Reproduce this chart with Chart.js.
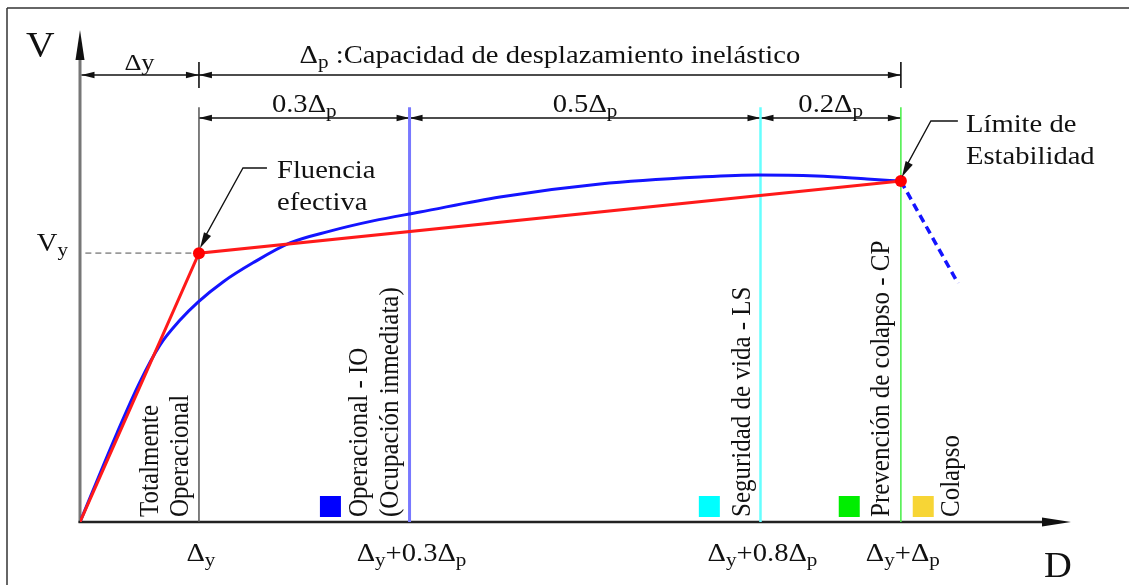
<!DOCTYPE html>
<html><head><meta charset="utf-8">
<script src="https://cdn.jsdelivr.net/npm/chart.js@4.4.1/dist/chart.umd.min.js"></script>
<style>html,body{margin:0;padding:0;background:#fff;overflow:hidden}canvas{display:block}</style>
</head><body>
<canvas id="c" width="1129" height="585"></canvas>
<script>
// ---- data (x in units of Δy, y in units of Vy) ----
const xTicks = [1, 2.77, 5.72, 6.9];
const xTickLabels = ['Δ_y', 'Δ_y+0.3Δ_p', 'Δ_y+0.8Δ_p', 'Δ_y+Δ_p'];
const yTicks = [1];
const yTickLabels = ['V_y'];
const capX = [0, 0.311, 0.504, 0.672, 0.841, 0.992, 1.202, 1.454, 1.765, 2.101, 2.463, 2.858, 3.530, 4.371, 5.211, 5.699, 6.195, 6.615, 6.90];
const capY = [0, 0.331, 0.521, 0.658, 0.751, 0.818, 0.893, 0.964, 1.038, 1.082, 1.120, 1.153, 1.209, 1.257, 1.283, 1.291, 1.287, 1.276, 1.268];
const bilX = [0, 1, 6.9];
const bilY = [0, 1, 1.268];
const degX = [6.9, 7.38];
const degY = [1.268, 0.888];
const levelX = [1, 2.77, 5.72, 6.9];
const levelTop = 1.543;
const spanLabels = ['0.3Δ_p', '0.5Δ_p', '0.2Δ_p'];
const levelNames = [['Totalmente', 'Operacional'], ['Operacional - IO', '(Ocupación inmediata)'], ['Seguridad de vida - LS'], ['Prevención de colapso - CP'], ['Colapso']];

// ---- styles / layout ----
const FONT = '"Liberation Serif", "DejaVu Serif", serif';
const SX = 1.1;
const levelColors = ['#555555', '#7878ff', '#66ffff', '#44ee44'];
const levelWidths = [1.5, 3, 2.5, 1.5];
const swatchColors = [null, '#0000ff', '#00ffff', '#00ee00', '#f7d535'];
const nameLineX = [[0.588, 0.840], [2.345, 2.605], [5.563], [6.731], [7.32]];
const swatchX = [null, 2.105, 5.29, 6.466, 7.088];

function pts(xs, ys) { return xs.map((x, i) => ({ x: x, y: ys[i] })); }

function parseRich(s) {
  const segs = [];
  for (let i = 0; i < s.length; i++) {
    if (s[i] === '_') { segs.push({ t: s[i + 1], sub: true }); i++; }
    else if (segs.length && !segs[segs.length - 1].sub) segs[segs.length - 1].t += s[i];
    else segs.push({ t: s[i], sub: false });
  }
  return segs;
}
function drawRich(ctx, s, x, y, size, align, color) {
  const segs = parseRich(s);
  ctx.save();
  ctx.fillStyle = color || '#111';
  ctx.textBaseline = 'alphabetic';
  ctx.textAlign = 'left';
  let total = 0;
  segs.forEach(g => {
    ctx.font = (g.sub ? size * 0.74 : size) + 'px ' + FONT;
    g.w = ctx.measureText(g.t).width; total += g.w;
  });
  let cur = align === 'center' ? -total / 2 : (align === 'right' ? -total : 0);
  ctx.translate(x, y); ctx.scale(SX, 1);
  segs.forEach(g => {
    ctx.font = (g.sub ? size * 0.74 : size) + 'px ' + FONT;
    ctx.fillText(g.t, cur, g.sub ? size * 0.2 : 0);
    cur += g.w;
  });
  ctx.restore();
}
function drawRot(ctx, s, cx, by, size) {
  ctx.save();
  ctx.fillStyle = '#111';
  ctx.font = size + 'px ' + FONT;
  ctx.translate(cx, by); ctx.scale(SX, 1); ctx.rotate(-Math.PI / 2);
  ctx.textBaseline = 'middle'; ctx.textAlign = 'left';
  ctx.fillText(s, 0, 1);
  ctx.restore();
}
function arrowHead(ctx, tx, ty, ang, len, hw, color) {
  ctx.save();
  ctx.fillStyle = color || '#111';
  ctx.translate(tx, ty); ctx.rotate(ang);
  ctx.beginPath(); ctx.moveTo(0, 0); ctx.lineTo(-len, -hw); ctx.lineTo(-len, hw); ctx.closePath(); ctx.fill();
  ctx.restore();
}
function line(ctx, x1, y1, x2, y2, w, color) {
  ctx.save(); ctx.strokeStyle = color; ctx.lineWidth = w;
  ctx.beginPath(); ctx.moveTo(x1, y1); ctx.lineTo(x2, y2); ctx.stroke(); ctx.restore();
}
function dimLine(ctx, x1, x2, y) {
  line(ctx, x1, y, x2, y, 1.6, '#111');
  arrowHead(ctx, x1, y, Math.PI, 13, 3.2);
  arrowHead(ctx, x2, y, 0, 13, 3.2);
}

const decorPlugin = {
  id: 'decor',
  beforeDatasetsDraw(chart) {
    const ctx = chart.ctx, xs = chart.scales.x, ys = chart.scales.y, a = chart.chartArea;
    const X = v => xs.getPixelForValue(v), Y = v => ys.getPixelForValue(v);
    // frame
    line(ctx, 7, 8, 1129, 8, 1.5, '#333');
    line(ctx, 7, 8, 7, 585, 1.5, '#333');
    // axes
    const ox = X(0), oy = Y(0);
    line(ctx, ox, oy + 1, ox, a.top + 26, 3, '#777');
    arrowHead(ctx, ox, a.top, -Math.PI / 2, 30, 4.5, '#111');
    line(ctx, ox - 1.5, oy, a.right - 26, oy, 2.5, '#222');
    arrowHead(ctx, a.right, oy, 0, 29, 4.5, '#111');
    drawRich(ctx, 'V', 26, 57, 36, 'left');
    drawRich(ctx, 'D', 1044, 577, 35, 'left');
    // y tick label
    yTicks.forEach((v, i) => drawRich(ctx, yTickLabels[i], 68, Y(v) - 2, 26, 'right'));
    // x tick labels
    xTicks.forEach((v, i) => drawRich(ctx, xTickLabels[i], X(v) + 2, 561, 26, 'center'));
    // dimension lines
    const yDim1 = 75, yDim2 = 118;
    dimLine(ctx, ox + 1.5, X(levelX[0]), yDim1);
    dimLine(ctx, X(levelX[0]), X(levelX[3]), yDim1);
    line(ctx, X(levelX[0]), 62, X(levelX[0]), 88, 1.6, '#111');
    line(ctx, X(levelX[3]), 62, X(levelX[3]), 88, 1.6, '#111');
    drawRich(ctx, 'Δy', (ox + X(levelX[0])) / 2, 70, 24, 'center');
    drawRich(ctx, 'Δ_p :Capacidad de desplazamiento inelástico', (X(levelX[0]) + X(levelX[3])) / 2, 63, 26, 'center');
    for (let i = 0; i < 3; i++) {
      dimLine(ctx, X(levelX[i]), X(levelX[i + 1]), yDim2);
      drawRich(ctx, spanLabels[i], (X(levelX[i]) + X(levelX[i + 1])) / 2, 112, 26, 'center');
    }
    // performance level names and swatches
    levelNames.forEach((lines, i) => {
      lines.forEach((s, j) => drawRot(ctx, s, X(nameLineX[i][j]), oy - 5, 25));
      if (swatchColors[i]) {
        ctx.fillStyle = swatchColors[i];
        ctx.fillRect(X(swatchX[i]) - 10.5, oy - 26, 21, 21);
      }
    });
  },
  afterDatasetsDraw(chart) {
    const ctx = chart.ctx, xs = chart.scales.x, ys = chart.scales.y;
    const X = v => xs.getPixelForValue(v), Y = v => ys.getPixelForValue(v);
    // Fluencia efectiva
    const t1x = X(bilX[1]) + 1, t1y = Y(bilY[1]) - 5;
    ctx.save(); ctx.strokeStyle = '#111'; ctx.lineWidth = 1.3;
    ctx.beginPath(); ctx.moveTo(t1x + 67, 168); ctx.lineTo(t1x + 43, 168); ctx.lineTo(t1x + 6, t1y - 13); ctx.stroke();
    ctx.restore();
    arrowHead(ctx, t1x, t1y, Math.atan2(t1y - 168, t1x - (t1x + 43)), 16, 4);
    drawRich(ctx, 'Fluencia', 277, 178, 26, 'left');
    drawRich(ctx, 'efectiva', 277, 210, 26, 'left');
    // Límite de Estabilidad
    const t2x = X(bilX[2]) + 1, t2y = Y(bilY[2]) - 4;
    ctx.save(); ctx.strokeStyle = '#111'; ctx.lineWidth = 1.3;
    ctx.beginPath(); ctx.moveTo(t2x + 56, 121); ctx.lineTo(t2x + 29, 121); ctx.lineTo(t2x + 5, t2y - 12); ctx.stroke();
    ctx.restore();
    arrowHead(ctx, t2x, t2y, Math.atan2(t2y - 121, t2x - (t2x + 29)), 16, 4);
    drawRich(ctx, 'Límite de', 966, 132, 26, 'left');
    drawRich(ctx, 'Estabilidad', 966, 164, 26, 'left');
  }
};

const datasets = [
  { data: pts(bilX, bilY), showLine: true, borderColor: '#ff1a1a', borderWidth: 3,
    pointRadius: [0, 6, 6], pointBackgroundColor: '#ff0000', pointBorderWidth: 0, tension: 0 },
  { data: pts(capX, capY), showLine: true, borderColor: '#1414ff', borderWidth: 3,
    pointRadius: 0, cubicInterpolationMode: 'monotone' },
  { data: pts(degX, degY), showLine: true, borderColor: '#1414ff', borderWidth: 3.5,
    borderDash: [8, 5], pointRadius: 0 },
  { data: pts([0.045, xTicks[0]], [yTicks[0], yTicks[0]]), showLine: true, borderColor: '#9a9a9a',
    borderWidth: 1.6, borderDash: [6, 4], pointRadius: 0 }
];
levelX.forEach((v, i) => datasets.push({
  data: pts([v, v], [0, levelTop]), showLine: true, borderColor: levelColors[i],
  borderWidth: levelWidths[i], pointRadius: 0
}));

new Chart(document.getElementById('c'), {
  type: 'scatter',
  data: { datasets: datasets },
  options: {
    responsive: false, animation: false, devicePixelRatio: 1,
    layout: { padding: { left: 80, right: 58, top: 30, bottom: 63 } },
    scales: {
      x: { type: 'linear', min: 0, max: 8.33, display: false },
      y: { type: 'linear', min: 0, max: 1.83, display: false }
    },
    plugins: { legend: { display: false }, tooltip: { enabled: false } },
    events: []
  },
  plugins: [decorPlugin]
});
</script>
</body></html>
